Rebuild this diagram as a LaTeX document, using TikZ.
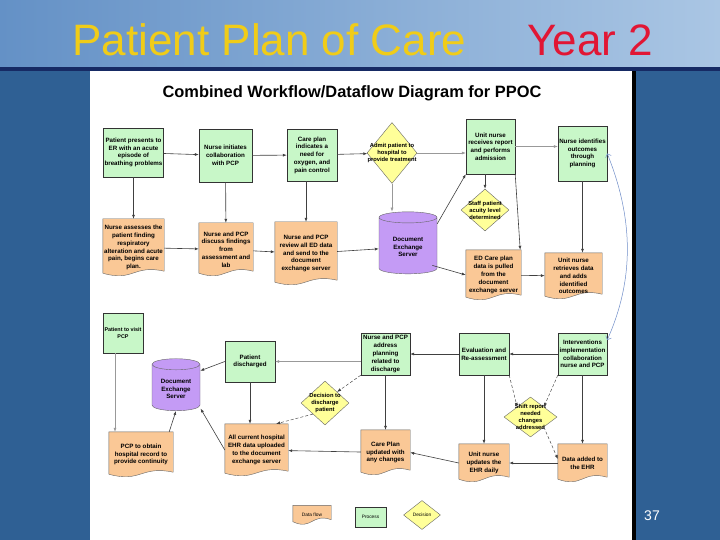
\documentclass[tikz,border=0pt]{standalone}
\usepackage{fontspec}
\setmainfont{Liberation Sans}
\usepackage{tikz}
\usetikzlibrary{positioning, arrows.meta, shapes.geometric, calc, backgrounds}

\definecolor{procgreen}{RGB}{200,247,200}
\definecolor{flowpeach}{RGB}{250,200,150}
\definecolor{decyellow}{RGB}{255,255,153}
\definecolor{serverpurple}{RGB}{196,155,245}
\definecolor{slideblue}{RGB}{47,96,148}
\definecolor{bannerleft}{RGB}{100,145,198}
\definecolor{bannerright}{RGB}{170,198,228}
\definecolor{bandnavy}{RGB}{22,42,100}
\definecolor{titleyellow}{RGB}{240,204,24}
\definecolor{titlered}{RGB}{225,22,52}
\definecolor{curveblue}{RGB}{110,140,200}

\begin{document}
\begin{tikzpicture}[
        x=1pt, y=-1pt, % pixel grid of the slide
        font=\fontsize{6.2}{7.8}\selectfont\bfseries,
        process/.style={
            rectangle,
            draw=black!80,
            fill=procgreen,
            align=center,
            inner sep=1pt
        },
        dataflow/.style={rectangle, align=center, inner sep=1pt},
        docshape/.style={draw=black!60, fill=flowpeach},
        decision/.style={diamond, draw=black!60, fill=decyellow, inner sep=0pt},
        dtext/.style={align=center, font=\fontsize{5.8}{7}\selectfont\bfseries},
        server/.style={
            cylinder,
            shape border rotate=90,
            aspect=0.3,
            draw=black!60,
            fill=serverpurple,
            align=center
        },
        sz/.style 2 args={minimum width=#1pt, minimum height=#2pt},
        line/.style={draw=black!75, line width=0.6pt, -{Latex[length=4pt, width=3pt]}},
        faint/.style={line, draw=black!40},
        hint/.style={line, densely dashed, line width=0.45pt},
        legtext/.style={font=\fontsize{4.8}{5.4}\selectfont}
    ]
        \useasboundingbox (0,0) rectangle (720,540);

        % Slide
        \begin{scope}[on background layer]
            \fill[slideblue] (0,0) rectangle (720,540);
            \shade[left color=bannerleft, right color=bannerright] (0,0) rectangle (720,68);
            \fill[bandnavy] (0,67) rectangle (720,71);
            \fill[white] (90,71) rectangle (633,540);
            \fill[black] (632,71) rectangle (636,540);
        \end{scope}

        \node[font=\fontsize{44}{44}\selectfont, text=titleyellow, anchor=base west] (mainTitle) at (69,56) {Patient Plan of Care};
        \node[font=\fontsize{44}{44}\selectfont, text=titlered, anchor=base west] (yearTitle) at (524,56) {Year 2};
        \node[font=\fontsize{16.4}{16.4}\selectfont\bfseries] (diagTitle) at (352,93) {Combined Workflow/Dataflow Diagram for PPOC};
        \node[font=\fontsize{14}{14}\selectfont, text=white] (pageNum) at (652,516) {37};

        % Nodes, top row
        \node[process, sz={59}{49}] (erArrive) at (133.5,152.5) {Patient presents to\\ER with an acute\\episode of\\breathing problems};
        \node[process, sz={53}{53}] (initCollab) at (225.5,155.5) {Nurse initiates\\collaboration\\with PCP};
        \node[process, sz={50}{52}] (carePlan) at (312,155) {Care plan\\indicates a\\need for\\oxygen, and\\pain control};
        \node[decision, sz={50}{61}, label={[dtext]center:{Admit patient to\\hospital to\\provide treatment}}] (admit) at (392,153) {};
        \node[process, sz={49}{55}] (unitRecv) at (490.5,146.5) {Unit nurse\\receives report\\and performs\\admission};
        \node[process, sz={49}{55}] (identOut) at (582.5,153.5) {Nurse identifies\\outcomes\\through\\planning};
        \node[decision, sz={48}{42}, label={[dtext]center:{Staff patient\\acuity level\\determined}}] (acuity) at (485,210) {};

        % Nodes, second row
        \node[dataflow, sz={61}{57}] (assess) at (133.5,247.5) {Nurse assesses the\\patient finding\\respiratory\\alteration and acute\\pain, begins care\\plan.};
        \node[dataflow, sz={54}{53}] (discuss) at (226,249.5) {Nurse and PCP\\discuss findings\\from\\assessment and\\lab};
        \node[dataflow, sz={62}{63}] (review) at (306,253.5) {Nurse and PCP\\review all ED data\\and send to the\\document\\exchange server};
        \node[server, sz={58}{62}] (docServer) at (408,247) {Document\\Exchange\\Server};
        \node[dataflow, sz={55}{50}] (edPulled) at (493.5,275) {ED Care plan\\data is pulled\\from the\\document\\exchange server};
        \node[dataflow, sz={57}{46}] (retrieve) at (573.5,276) {Unit nurse\\retrieves data\\and adds\\identified\\outcomes};

        % Nodes, discharge part
        \node[process, sz={40}{40}, font=\fontsize{5.4}{7}\selectfont\bfseries] (visitPCP) at (123,333) {Patient to visit\\PCP};
        \node[server, sz={48}{52}] (docServerB) at (176,389) {Document\\Exchange\\Server};
        \node[process, sz={50}{41}] (discharged) at (250,361.5) {Patient\\discharged};
        \node[dataflow, sz={64}{45}] (pcpRecord) at (141,454.5) {PCP to obtain\\hospital record to\\provide continuity};
        \node[dataflow, sz={63}{52}] (ehrUpload) at (256.5,450) {All current hospital\\EHR data uploaded\\to the document\\exchange server};
        \node[process, sz={49}{42}] (addrPlan) at (385.5,354) {Nurse and PCP\\address\\planning\\related to\\discharge};
        \node[decision, sz={48}{44}, label={[dtext]center:{Decision to\\discharge\\patient}}] (decideDis) at (325,403) {};
        \node[dataflow, sz={49}{45}] (cpUpdated) at (385.5,452.5) {Care Plan\\updated with\\any changes};
        \node[process, sz={50}{42}] (evalRe) at (484,354) {Evaluation and\\Re-assessment};
        \node[process, sz={49}{42}] (interv) at (582.5,354) {Interventions\\implementation\\collaboration\\nurse and PCP};
        \node[decision, sz={53}{40}, label={[dtext]center:{Shift report\\needed\\changes\\addressed}}] (shiftRep) at (530.5,417) {};
        \node[dataflow, sz={50}{38}] (updEHR) at (484,463) {Unit nurse\\updates the\\EHR daily};
        \node[dataflow, sz={49}{38}] (dataAdded) at (582.5,463) {Data added to\\the EHR};

        % Legend
        \node[dataflow, legtext, sz={38}{19}] (legData) at (312,515) {Data flow};
        \node[process, legtext, sz={31}{20}] (legProc) at (370.5,517) {Process};
        \node[decision, sz={37}{29}, label={[legtext]center:Decision}] (legDec) at (422,515) {};

        % Document outlines behind the data flow texts
        \begin{scope}[on background layer]
            \foreach \n in {assess, discuss, review, edPulled, retrieve, pcpRecord, ehrUpload, cpUpdated, updEHR, dataAdded, legData}
                \path[docshape] (\n.north west) -- (\n.north east) -- ($(\n.south east)+(0,-5)$)
                    .. controls ($(\n.south east)!0.5!(\n.south west)+(0,-12)$) and ($(\n.south east)!0.5!(\n.south west)+(0,6)$)
                    .. ($(\n.south west)+(0,-3)$) -- cycle;
        \end{scope}

        % Paths, top row
        \path[line] (erArrive) -- (initCollab);
        \path[line] (initCollab) -- (carePlan);
        \path[line] (carePlan) -- (admit);
        \path[faint] (admit) -- (admit -| unitRecv.west);
        \path[faint] (unitRecv.east) -- (unitRecv.east -| identOut.west);
        \path[line] (erArrive) -- (assess);
        \path[line] (initCollab) -- (discuss);
        \path[line] (carePlan.south -| review.north) -- (review.north);
        \path[faint] (admit.south) -- (admit.south |- docServer.north);
        \path[line] (unitRecv.south -| acuity.north) -- (acuity.north);
        \path[line] (unitRecv.south east) -- ([xshift=-1pt]edPulled.north east);
        \path[line] (identOut.south) -- (identOut.south |- retrieve.north);

        % Paths, second row
        \path[line] (assess) -- (discuss);
        \path[line] (discuss) -- (review);
        \path[line] (review) -- (docServer);
        \path[line] ([yshift=-6pt]docServer.north east) -- (unitRecv.south west);
        \path[line] ([yshift=6pt]docServer.south east) -- (edPulled.west);
        \path[line] (edPulled) -- (retrieve);
        \draw[curveblue, line width=0.5pt, {Straight Barb[length=3pt]}-{Straight Barb[length=3pt]}]
            (identOut.east) .. controls (634,220) and (634,280) .. ([yshift=14pt]interv.east);

        % Paths, discharge part
        \path[line] (interv) -- (evalRe);
        \path[line] (evalRe) -- (addrPlan);
        \path[faint] (addrPlan.west |- discharged) -- (discharged.east);
        \path[line] (discharged.west) -- ([yshift=-6pt]docServerB.north east);
        \path[line] (discharged.south) -- (discharged.south |- ehrUpload.north);
        \path[line] (ehrUpload.west) -- ([xshift=5pt]docServerB.south east);
        \path[line] ([xshift=-4pt]pcpRecord.north east) -- (docServerB.south);
        \path[faint] ([xshift=-8pt]visitPCP.south) -- ([xshift=-8pt]visitPCP.south |- pcpRecord.north);
        \path[hint] (addrPlan.south west) -- (decideDis.north east);
        \path[hint] (decideDis.south west) -- ([xshift=-12pt]ehrUpload.north east);
        \path[line] (addrPlan) -- (cpUpdated);
        \path[line] (cpUpdated) -- (ehrUpload);
        \path[line] (updEHR.west) -- (cpUpdated.east);
        \path[line] (evalRe) -- (updEHR);
        \path[line] (interv) -- (dataAdded);
        \path[line] (dataAdded) -- (updEHR);
        \path[hint] (evalRe.south east) -- (shiftRep.north west);
        \path[hint] (interv.south west) -- (shiftRep.north east);
        \path[hint] (shiftRep.south east) -- ([yshift=4pt]dataAdded.west);
    \end{tikzpicture}
\end{document}
